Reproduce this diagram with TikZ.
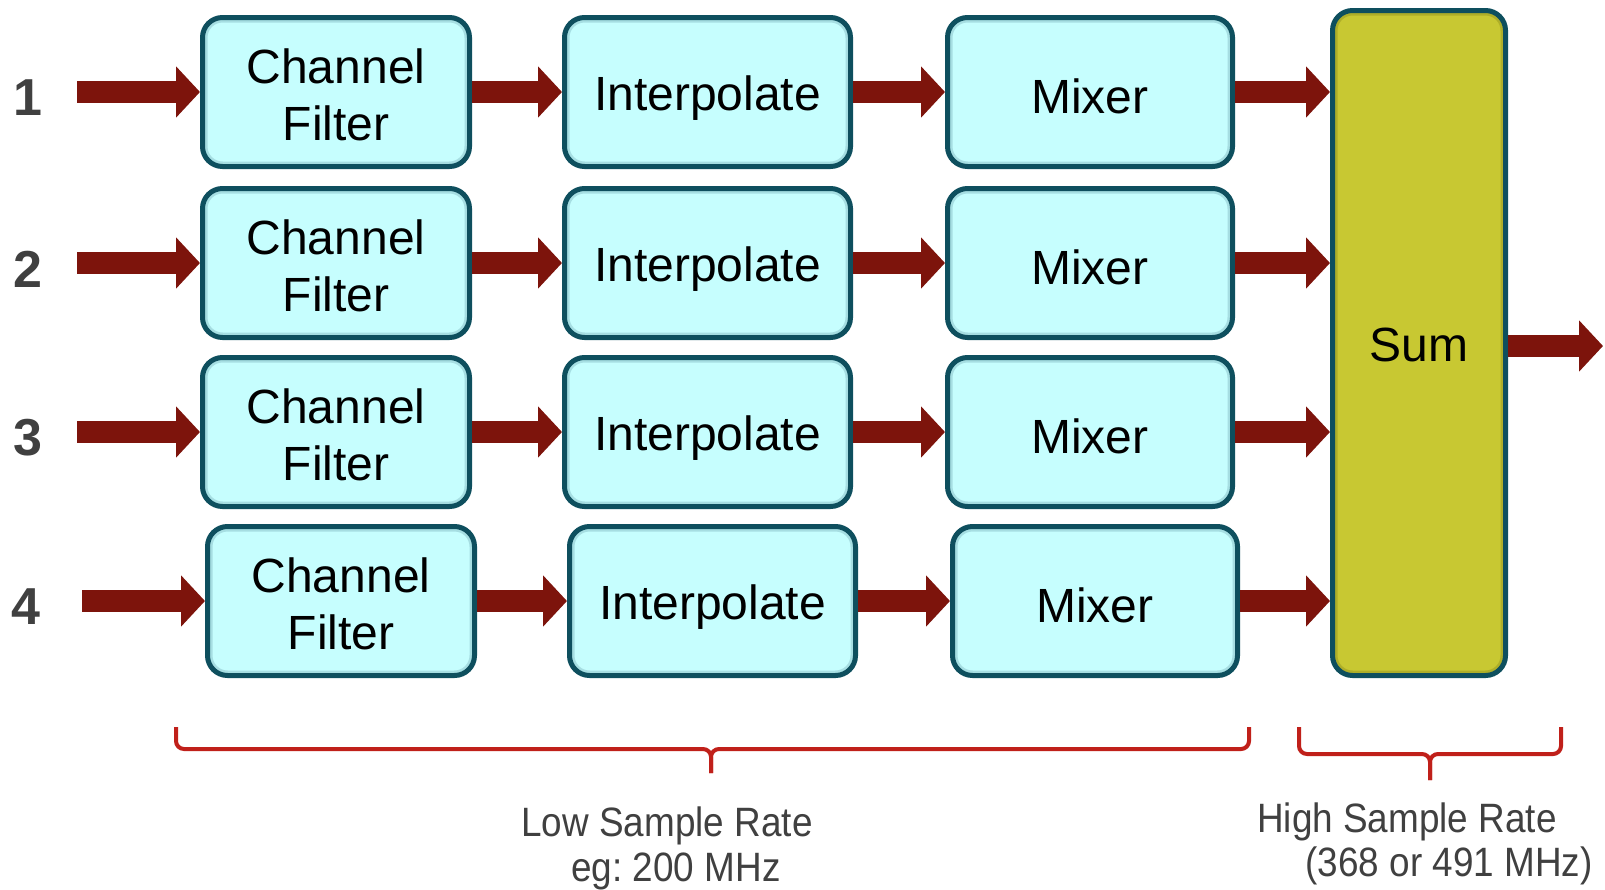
\documentclass[tikz,border=0pt]{standalone}
\usepackage{fontspec}
\setmainfont{Liberation Sans}
\newfontfamily\narrowfont{Liberation Sans}[FakeStretch=0.9]
\usetikzlibrary{arrows.meta}
\definecolor{boxfill}{HTML}{C6FEFE}
\definecolor{boxline}{HTML}{0E4F5E}
\definecolor{boxshade}{HTML}{8CC4CC}
\definecolor{sumfill}{HTML}{C8C832}
\definecolor{sumshade}{HTML}{9A9A20}
\definecolor{arrowred}{HTML}{7D140C}
\definecolor{bracered}{HTML}{C0201A}
\definecolor{labelgray}{HTML}{404040}
\frenchspacing
\begin{document}
\begin{tikzpicture}[x=1pt,y=-1pt,
  blk/.style={draw=boxline, line width=5pt, fill=boxfill, rounded corners=20pt,
    minimum height=149pt, inner sep=0pt,
    path picture={\draw[line width=10pt, #1, opacity=0.55, rounded corners=20pt]
      (path picture bounding box.south west) rectangle (path picture bounding box.north east);}},
  blk/.default=boxshade,
  cfbox/.style={blk, minimum width=267pt},
  ipbox/.style={blk, minimum width=286pt},
  mxbox/.style={blk, minimum width=285pt},
  sumbox/.style={blk=sumshade, fill=sumfill, minimum width=173pt, minimum height=665pt},
  boxtext/.style={inner sep=0pt, align=center, font=\fontsize{48}{57}\selectfont},
  arr/.style={line width=22pt, arrowred, -{Triangle[width=50pt,length=24pt]}},
  num/.style={font=\fontsize{52}{52}\selectfont\bfseries, text=labelgray, inner sep=0pt},
  rate/.style={font=\fontsize{41}{45}\selectfont\narrowfont, text=labelgray, inner sep=0pt},
  brace/.style={bracered, line width=4pt, rounded corners=8pt}
]
\useasboundingbox (0,0) rectangle (1605,889);

% rows
\foreach \i/\y/\dx in {1/92/0, 2/263/0, 3/432/0, 4/601/5} {
  \node[cfbox] (cf\i) at (336+\dx,\y) {};
  \node[ipbox] (ip\i) at (707.5+\dx,\y) {};
  \node[mxbox] (mx\i) at (1090+\dx,\y) {};
  \node[boxtext] (cft\i) at ([yshift=-3pt]cf\i.center) {Channel\\Filter};
  \node[boxtext] (ipt\i) at ([yshift=-6pt]ip\i.center) {Interpolate};
  \node[boxtext] (mxt\i) at ([yshift=-4pt]mx\i.center) {Mixer};
  \node[num] (n\i) at (28-\dx/2,\y+6) {\i};
  \coordinate (in\i) at (77+\dx,\y);
}
\node[sumbox] (sum) at (1419,343) {};
\node[boxtext] (sumt) at ([yshift=-2pt]sum.center) {Sum};
\coordinate (out) at (1603,346);

\foreach \i in {1,2,3,4} {
  \draw[arr] (in\i) -- (cf\i.west);
  \draw[arr] (cf\i.east) -- (ip\i.west);
  \draw[arr] (ip\i.east) -- (mx\i.west);
  \draw[arr] (mx\i.east) -- (mx\i.east -| sum.west);
}
\draw[arr] (sum.east |- out) -- (out);

% braces
\coordinate (b1l) at (176,727);
\coordinate (b1r) at (1249,727);
\coordinate (b1t) at (711,773);
\draw[brace] (b1l) -- (176,749) -- (711,749) -- (b1t);
\draw[brace] (b1r) -- (1249,749) -- (711,749) -- (b1t);
\coordinate (b2l) at (1299,727);
\coordinate (b2r) at (1561,727);
\coordinate (b2t) at (1430,780);
\draw[brace] (b2l) -- (1299,754) -- (1430,754) -- (b2t);
\draw[brace] (b2r) -- (1561,754) -- (1430,754) -- (b2t);

\node[rate] (low1) at (667,826) {Low Sample Rate};
\node[rate] (low2) at (676,871) {eg: 200 MHz};
\node[rate] (high1) at (1407,822) {High Sample Rate};
\node[rate] (high2) at (1449,866) {(368 or 491 MHz)};
\end{tikzpicture}
\end{document}
